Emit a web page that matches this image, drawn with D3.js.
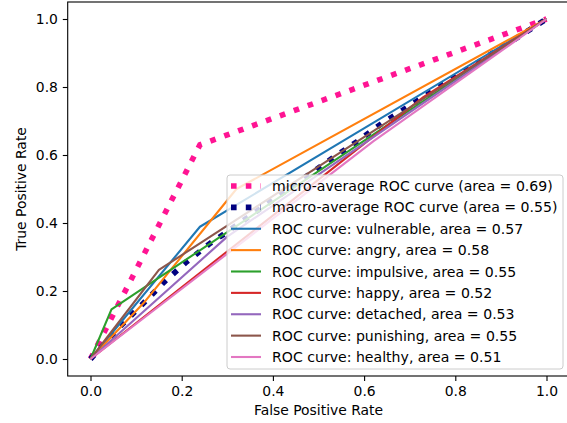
<!DOCTYPE html>
<html>
<head>
<meta charset="utf-8">
<script src="https://cdn.jsdelivr.net/npm/d3@7/dist/d3.min.js"></script>
<style>
  body { margin: 0; background: #fff; }
  text { font-family: "DejaVu Sans", sans-serif; }
</style>
</head>
<body>
<div id="chart"></div>
<script>
// ROC curves, each as [fpr, tpr] points
var microAvg = [[0, 0], [0.24, 0.63], [1, 1]];
var macroAvg = [[0, 0], [0.068, 0.10], [0.116, 0.164], [0.162, 0.227], [0.211, 0.286],
  [0.262, 0.34], [0.29, 0.365], [0.53, 0.59], [0.584, 0.639], [0.639, 0.693], [1, 1]];
var vulnerable = [[0, 0], [0.24, 0.389], [1, 1]];
var angry = [[0, 0], [0.12, 0.17], [0.32, 0.50], [1, 1]];
var impulsive = [[0, 0], [0.046, 0.146], [1, 1]];
var happy = [[0, 0], [0.73, 0.77], [1, 1]];
var detached = [[0, 0], [0.3, 0.36], [1, 1]];
var punishing = [[0, 0], [0.15, 0.262], [1, 1]];
var healthy = [[0, 0], [0.62, 0.64], [1, 1]];

var classNames = ["vulnerable", "angry", "impulsive", "happy", "detached", "punishing", "healthy"];
var classAreas = ["0.57", "0.58", "0.55", "0.52", "0.53", "0.55", "0.51"];
var classCurves = [vulnerable, angry, impulsive, happy, detached, punishing, healthy];
var classColors = ["#1f77b4", "#ff7f0e", "#2ca02c", "#d62728", "#9467bd", "#8c564b", "#e377c2"];
var tickVals = [0, 0.2, 0.4, 0.6, 0.8, 1.0];

var W = 567, H = 423;
var axL = 67.7, axR = 569.3, axT = 2, axB = 376;

var svg = d3.select("#chart").append("svg")
  .attr("width", W).attr("height", H);

// <------ scales, with the usual 5% margin around 0..1 ------>
var x = d3.scaleLinear().domain([-0.05, 1.05]).range([axL, axR]);
var y = d3.scaleLinear().domain([-0.05, 1.05]).range([axB, axT]);

var line = d3.line()
  .x(function(d) { return x(d[0]); })
  .y(function(d) { return y(d[1]); });

// averages first, dotted and thick
svg.append("path").datum(microAvg)
  .attr("d", line).attr("fill", "none")
  .attr("stroke", "#ff1493").attr("stroke-width", 5.6)
  .attr("stroke-dasharray", "5.6,9.2");
svg.append("path").datum(macroAvg)
  .attr("d", line).attr("fill", "none")
  .attr("stroke", "#000080").attr("stroke-width", 5.6)
  .attr("stroke-dasharray", "5.6,9.2");

// one line per class
classCurves.forEach(function(c, i) {
  svg.append("path").datum(c)
    .attr("d", line).attr("fill", "none")
    .attr("stroke", classColors[i]).attr("stroke-width", 2.1)
    .attr("stroke-linejoin", "round");
});

// <------ axes ------>
var xAxis = svg.append("g")
  .attr("transform", "translate(0," + axB + ")")
  .call(d3.axisBottom(x).tickValues(tickVals).tickFormat(d3.format(".1f"))
    .tickSize(4.9).tickPadding(4.9));
var yAxis = svg.append("g")
  .attr("transform", "translate(" + axL + ",0)")
  .call(d3.axisLeft(y).tickValues(tickVals).tickFormat(d3.format(".1f"))
    .tickSize(4.9).tickPadding(4.9));
[xAxis, yAxis].forEach(function(g) {
  g.select(".domain").remove();
  g.selectAll("text").attr("font-size", 13.9).attr("fill", "#000")
    .attr("font-family", "DejaVu Sans, sans-serif");
  g.selectAll("line").attr("stroke", "#000").attr("stroke-width", 1.1);
});

// frame
svg.append("rect")
  .attr("x", axL).attr("y", axT)
  .attr("width", axR - axL).attr("height", axB - axT)
  .attr("fill", "none").attr("stroke", "#000").attr("stroke-width", 1.1);

svg.append("text")
  .attr("x", (axL + axR) / 2).attr("y", 415)
  .attr("text-anchor", "middle").attr("font-size", 13.9)
  .text("False Positive Rate");
svg.append("text")
  .attr("transform", "translate(26," + (axT + axB) / 2 + ") rotate(-90)")
  .attr("text-anchor", "middle").attr("font-size", 13.9)
  .text("True Positive Rate");

// <------ legend ------>
var labels = ["micro-average ROC curve (area = 0.69)", "macro-average ROC curve (area = 0.55)"];
classNames.forEach(function(n, i) {
  labels.push("ROC curve: " + n + ", area = " + classAreas[i]);
});
var legColors = ["#ff1493", "#000080"].concat(classColors);

var lg = svg.append("g");
lg.append("rect")
  .attr("x", 227).attr("y", 175).attr("width", 336).attr("height", 194)
  .attr("rx", 3).attr("fill", "#fff").attr("fill-opacity", 0.8)
  .attr("stroke", "#ccc").attr("stroke-width", 1);

var rowY = d3.scaleLinear().domain([0, 8]).range([186, 357]);
labels.forEach(function(t, i) {
  var yy = rowY(i);
  var h = lg.append("line")
    .attr("x1", 231).attr("x2", 261).attr("y1", yy).attr("y2", yy)
    .attr("stroke", legColors[i]);
  if (i < 2) {
    h.attr("stroke-width", 5.6).attr("stroke-dasharray", "5.6,9.2");
  } else {
    h.attr("stroke-width", 2.1);
  }
  lg.append("text")
    .attr("x", 272).attr("y", yy).attr("dy", "0.36em")
    .attr("font-size", 14.1).attr("fill", "#000")
    .text(t);
});
</script>
</body>
</html>
